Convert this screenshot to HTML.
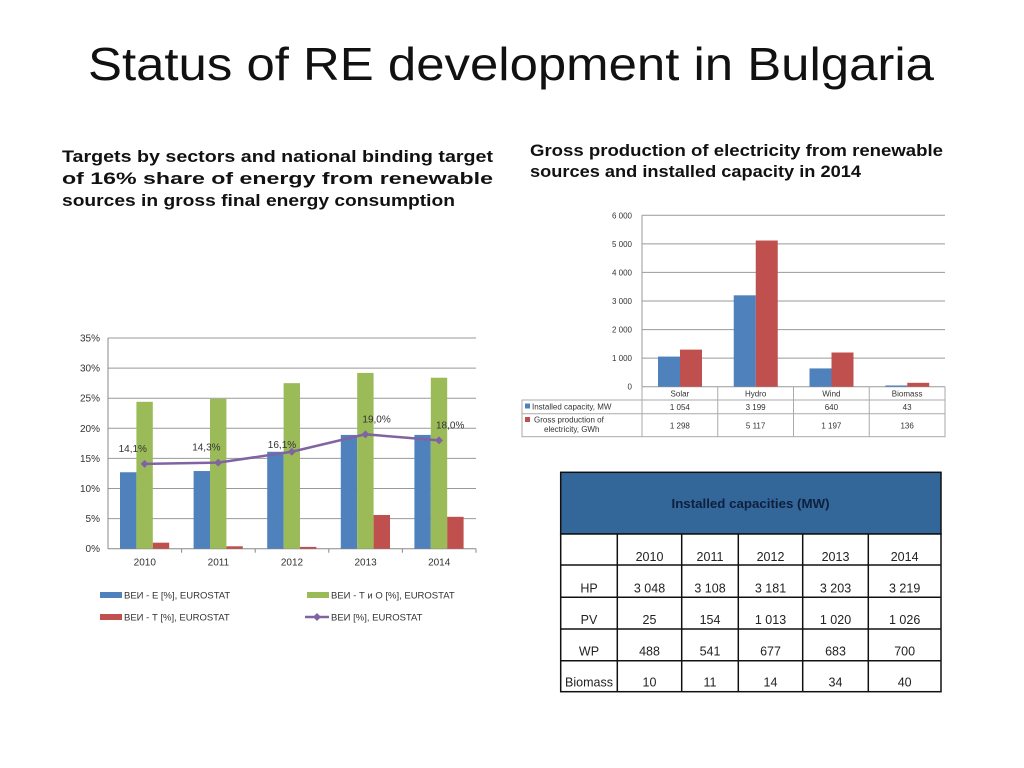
<!DOCTYPE html>
<html><head><meta charset="utf-8"><style>
html,body{margin:0;padding:0;background:#fff;width:1024px;height:768px;overflow:hidden}
svg{display:block;font-family:"Liberation Sans",sans-serif}
</style></head><body>
<svg id="s" width="1024" height="768" viewBox="0 0 1024 768">
<text x="88" y="80" font-size="46" fill="#111" textLength="846" lengthAdjust="spacingAndGlyphs">Status of RE development in Bulgaria</text>
<g font-weight="bold" font-size="17" fill="#111">
<text x="62" y="162" textLength="431" lengthAdjust="spacingAndGlyphs">Targets by sectors and national binding target</text>
<text x="62" y="184" textLength="431" lengthAdjust="spacingAndGlyphs">of  16%  share  of  energy  from  renewable</text>
<text x="62" y="206" textLength="393" lengthAdjust="spacingAndGlyphs">sources in gross final energy consumption</text>
</g>
<g font-weight="bold" font-size="17" fill="#111">
<text x="530" y="156" textLength="413" lengthAdjust="spacingAndGlyphs">Gross production of electricity from renewable</text>
<text x="530" y="177" textLength="331" lengthAdjust="spacingAndGlyphs">sources and installed capacity in 2014</text>
</g>
<g id="c1"></g>
<g id="c2"></g>
<g id="t1"></g>
</svg>
<script>
const years=["2010","2011","2012","2013","2014"];
const shareE=[12.7,12.9,16.1,18.9,18.9];
const shareTO=[24.4,24.9,27.5,29.2,28.4];
const shareT=[1.0,0.4,0.3,5.6,5.3];
const shareTotal=[14.1,14.3,16.1,19.0,18.0];
const shareLabels=["14,1%","14,3%","16,1%","19,0%","18,0%"];
const shareTicks=[0,5,10,15,20,25,30,35];

const sources=["Solar","Hydro","Wind","Biomass"];
const capacityMW=[1054,3199,640,43];
const productionGWh=[1298,5117,1197,136];
const prodTicks=[0,1000,2000,3000,4000,5000,6000];

const tableYears=["2010","2011","2012","2013","2014"];
const tableRows=["HP","PV","WP","Biomass"];
const hp=[3048,3108,3181,3203,3219];
const pv=[25,154,1013,1020,1026];
const wp=[488,541,677,683,700];
const bio=[10,11,14,34,40];

const NS="http://www.w3.org/2000/svg";
function mk(parent,tag,attrs,text){const e=document.createElementNS(NS,tag);for(const k in attrs)e.setAttribute(k,attrs[k]);if(text!==undefined)e.textContent=text;parent.appendChild(e);return e;}
function fmt(n){return String(n).replace(/\B(?=(\d{3})+(?!\d))/g," ");}

// chart 1
(function(){
const g=document.getElementById("c1");
const x0=108,x1=476,y0=548.7,y1=338,max=35;
const ys=v=>y0-(v/max)*(y0-y1);
const cw=(x1-x0)/years.length,bw=16.4;
shareTicks.forEach(t=>{
 const l=mk(g,"line",{x1:x0,x2:x1,y1:ys(t),y2:ys(t),stroke:t===0?"#888":"#999","stroke-width":1});
 
 
 const tx=mk(g,"text",{x:x0-8,y:ys(t)+3.5,"font-size":10,"text-anchor":"end",fill:"#333"},t+"%");
 
 
});
mk(g,"line",{x1:x0,x2:x0,y1:y1,y2:y0,stroke:"#888"});
const series=[[shareE,"#4f81bd"],[shareTO,"#9bbb59"],[shareT,"#c0504d"]];
years.forEach((yr,i)=>{
 const gx=x0+i*cw+12;
 series.forEach(([arr,col],j)=>{
  const r=mk(g,"rect",{x:gx+j*bw,y:ys(arr[i]),width:bw,height:y0-ys(arr[i]),fill:col});
  
  
 });
 const tk=mk(g,"line",{x1:x0+(i+1)*cw,x2:x0+(i+1)*cw,y1:y0,y2:y0+4,stroke:"#888"});
 const lb=mk(g,"text",{x:x0+(i+0.5)*cw,y:y0+17,"font-size":10,"text-anchor":"middle",fill:"#333"},yr);
 
 
});
const pts=shareTotal.map((v,i)=>[x0+i*cw+12+1.5*bw,ys(v)]);
const pl=mk(g,"polyline",{points:pts.map(p=>p.join(",")).join(" "),fill:"none",stroke:"#8064a2","stroke-width":2.5});


pts.forEach(([px,py],i)=>{
 const d=mk(g,"path",{d:`M${px-4} ${py}L${px} ${py-4}L${px+4} ${py}L${px} ${py+4}Z`,fill:"#8064a2"});
 
 
 const off=i<2?[-26,-12]:(i===2?[-24,-4]:[-3,-12]);
 const t=mk(g,"text",{x:px+off[0],y:py+off[1],"font-size":10,fill:"#333"},shareLabels[i]);
 
 
});
const leg=[[100,595,"#4f81bd","ВЕИ - Е [%], EUROSTAT","rect"],[307,595,"#9bbb59","ВЕИ - Т и О [%], EUROSTAT","rect"],[100,617,"#c0504d","ВЕИ - Т [%], EUROSTAT","rect"],[307,617,"#8064a2","ВЕИ [%], EUROSTAT","line"]];
leg.forEach(([lx,ly,col,txt,kind])=>{
 if(kind==="rect")mk(g,"rect",{x:lx,y:ly-3,width:22,height:6,fill:col});
 else{mk(g,"line",{x1:lx-2,x2:lx+22,y1:ly,y2:ly,stroke:col,"stroke-width":2.5});mk(g,"path",{d:`M${lx+6} ${ly}L${lx+10} ${ly-4}L${lx+14} ${ly}L${lx+10} ${ly+4}Z`,fill:col});}
 const t=mk(g,"text",{x:lx+24,y:ly+3.5,"font-size":9.5,fill:"#333"},txt);
 
 
});
})();

// chart 2
(function(){
const g=document.getElementById("c2");
const x0=642,x1=945,y0=386.7,y1=215.3,max=6000;
const ys=v=>y0-(v/max)*(y0-y1);
const cw=(x1-x0)/sources.length,bw=22;
prodTicks.forEach(t=>{
 const l=mk(g,"line",{x1:x0,x2:x1,y1:ys(t),y2:ys(t),stroke:"#999"});
 
 
 const tx=mk(g,"text",{x:x0-10,y:ys(t)+3,"font-size":8,"text-anchor":"end",fill:"#333"},fmt(t));
 
 
});
mk(g,"line",{x1:x0,x2:x0,y1:y1,y2:y0,stroke:"#999"});
sources.forEach((s,i)=>{
 const gx=x0+i*cw+16;
 const b=mk(g,"rect",{x:gx,y:ys(capacityMW[i]),width:bw,height:y0-ys(capacityMW[i]),fill:"#4f81bd"});
 
 
 const r=mk(g,"rect",{x:gx+bw,y:ys(productionGWh[i]),width:bw,height:y0-ys(productionGWh[i]),fill:"#c0504d"});
 
 
});
// data table
const tl=522,rows=[386.7,400,413.7,436.7];
mk(g,"rect",{x:tl,y:400,width:x1-tl,height:36.7,fill:"none",stroke:"#aaa"});
mk(g,"line",{x1:x0,x2:x1,y1:400,y2:400,stroke:"#aaa"});
mk(g,"line",{x1:tl,x2:x1,y1:413.7,y2:413.7,stroke:"#aaa"});
for(let i=0;i<=sources.length;i++)mk(g,"line",{x1:x0+i*cw,x2:x0+i*cw,y1:386.7,y2:436.7,stroke:"#aaa"});
mk(g,"line",{x1:x1,x2:x1,y1:386.7,y2:436.7,stroke:"#aaa"});
sources.forEach((s,i)=>{
 const cx=x0+(i+0.5)*cw;
 const a=mk(g,"text",{x:cx,y:396.5,"font-size":8,"text-anchor":"middle",fill:"#333"},s);
 
 
 mk(g,"text",{x:cx,y:410,"font-size":8,"text-anchor":"middle",fill:"#333"},fmt(capacityMW[i]));
 mk(g,"text",{x:cx,y:428.5,"font-size":8,"text-anchor":"middle",fill:"#333"},fmt(productionGWh[i]));
});
mk(g,"rect",{x:525,y:403.5,width:5,height:5,fill:"#4f81bd"});
mk(g,"text",{x:532,y:409.5,"font-size":8,fill:"#333"},"Installed capacity, MW");
mk(g,"rect",{x:525,y:417,width:5,height:5,fill:"#c0504d"});
mk(g,"text",{x:534,y:422.5,"font-size":8,fill:"#333"},"Gross production of");
mk(g,"text",{x:544,y:432,"font-size":8,fill:"#333"},"electricity, GWh");
})();

// table
(function(){
const g=document.getElementById("t1");
const cols=[560.7,617.3,681.7,738.3,802.7,868.3,941];
const rowsY=[534,565,597.3,629,660.7,691.7];
const h=mk(g,"rect",{x:560.7,y:472.3,width:380.3,height:61.7,fill:"#336699",stroke:"#111","stroke-width":1.5});


mk(g,"text",{x:750.5,y:508,"font-size":13,"font-weight":"bold","text-anchor":"middle",fill:"#0f1f3d",textLength:158,lengthAdjust:"spacingAndGlyphs"},"Installed capacities (MW)");
mk(g,"rect",{x:560.7,y:534,width:380.3,height:157.7,fill:"#fff",stroke:"#111","stroke-width":1.5});
rowsY.slice(1,-1).forEach(y=>mk(g,"line",{x1:560.7,x2:941,y1:y,y2:y,stroke:"#111","stroke-width":1.5}));
cols.slice(1,-1).forEach(x=>mk(g,"line",{x1:x,x2:x,y1:534,y2:691.7,stroke:"#111","stroke-width":1.5}));
const data=[hp,pv,wp,bio];
tableYears.forEach((yr,j)=>{
 const t=mk(g,"text",{x:(cols[j+1]+cols[j+2])/2,y:561,"font-size":12.5,"text-anchor":"middle",fill:"#222"},yr);
 
 
});
tableRows.forEach((r,i)=>{
 const by=rowsY[i+2]-5;
 const l=mk(g,"text",{x:(cols[0]+cols[1])/2,y:by,"font-size":12.5,"text-anchor":"middle",fill:"#222"},r);
 
 
 data[i].forEach((v,j)=>{
  const c=mk(g,"text",{x:(cols[j+1]+cols[j+2])/2,y:by,"font-size":12.5,"text-anchor":"middle",fill:"#222"},fmt(v));
  
  
 });
});
})();
</script>
</body></html>
